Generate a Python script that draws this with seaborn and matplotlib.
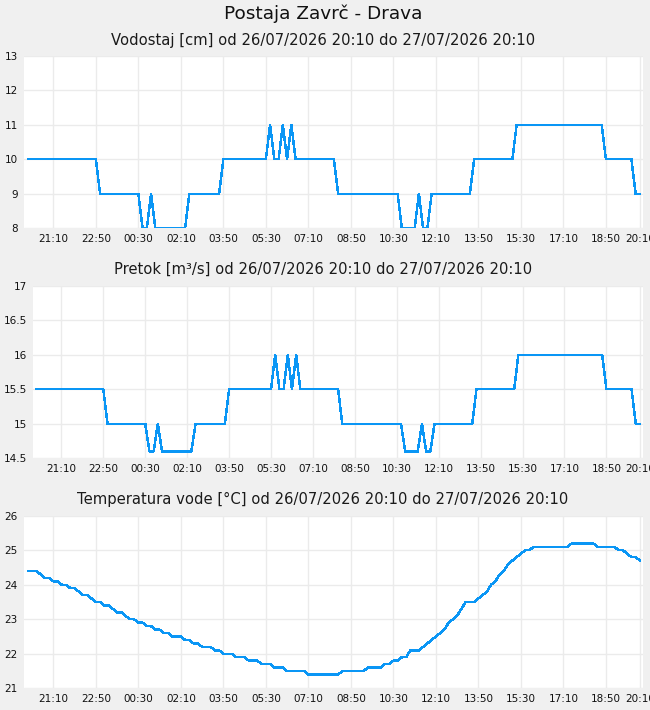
import matplotlib
matplotlib.use("Agg")
import matplotlib.pyplot as plt
import matplotlib.dates as mdates
from matplotlib.ticker import FixedLocator, FuncFormatter
import seaborn as sns
import pandas as pd

# ---------------- data (10-minute samples, 26/07/2026 20:10 .. 27/07/2026 20:10) ----------------
start_time = "2026-07-26 20:10"
n_points = 145

vodostaj = [
    10, 10, 10, 10, 10, 10, 10, 10, 10, 10, 10, 10, 10, 10, 10, 10, 10,
    9, 9, 9, 9, 9, 9, 9, 9, 9, 9,
    8, 8, 9, 8, 8, 8, 8, 8, 8, 8, 8,
    9, 9, 9, 9, 9, 9, 9, 9,
    10, 10, 10, 10, 10, 10, 10, 10, 10, 10, 10,
    11, 10, 10, 11, 10, 11,
    10, 10, 10, 10, 10, 10, 10, 10, 10, 10,
    9, 9, 9, 9, 9, 9, 9, 9, 9, 9, 9, 9, 9, 9, 9,
    8, 8, 8, 8, 9, 8, 8,
    9, 9, 9, 9, 9, 9, 9, 9, 9, 9,
    10, 10, 10, 10, 10, 10, 10, 10, 10, 10,
    11, 11, 11, 11, 11, 11, 11, 11, 11, 11, 11, 11, 11, 11, 11, 11, 11, 11, 11, 11, 11,
    10, 10, 10, 10, 10, 10, 10,
    9, 9,
]

pretok = [
    15.5, 15.5, 15.5, 15.5, 15.5, 15.5, 15.5, 15.5, 15.5, 15.5, 15.5, 15.5, 15.5, 15.5, 15.5, 15.5, 15.5,
    15.0, 15.0, 15.0, 15.0, 15.0, 15.0, 15.0, 15.0, 15.0, 15.0,
    14.6, 14.6, 15.0, 14.6, 14.6, 14.6, 14.6, 14.6, 14.6, 14.6, 14.6,
    15.0, 15.0, 15.0, 15.0, 15.0, 15.0, 15.0, 15.0,
    15.5, 15.5, 15.5, 15.5, 15.5, 15.5, 15.5, 15.5, 15.5, 15.5, 15.5,
    16.0, 15.5, 15.5, 16.0, 15.5, 16.0,
    15.5, 15.5, 15.5, 15.5, 15.5, 15.5, 15.5, 15.5, 15.5, 15.5,
    15.0, 15.0, 15.0, 15.0, 15.0, 15.0, 15.0, 15.0, 15.0, 15.0, 15.0, 15.0, 15.0, 15.0, 15.0,
    14.6, 14.6, 14.6, 14.6, 15.0, 14.6, 14.6,
    15.0, 15.0, 15.0, 15.0, 15.0, 15.0, 15.0, 15.0, 15.0, 15.0,
    15.5, 15.5, 15.5, 15.5, 15.5, 15.5, 15.5, 15.5, 15.5, 15.5,
    16.0, 16.0, 16.0, 16.0, 16.0, 16.0, 16.0, 16.0, 16.0, 16.0, 16.0, 16.0, 16.0, 16.0, 16.0, 16.0, 16.0, 16.0, 16.0, 16.0, 16.0,
    15.5, 15.5, 15.5, 15.5, 15.5, 15.5, 15.5,
    15.0, 15.0,
]

temperatura = [
    24.4, 24.4, 24.4, 24.3, 24.2, 24.2, 24.1, 24.1, 24.0, 24.0,
    23.9, 23.9, 23.8, 23.7, 23.7, 23.6, 23.5, 23.5, 23.4, 23.4,
    23.3, 23.2, 23.2, 23.1, 23.0, 23.0, 22.9, 22.9, 22.8, 22.8,
    22.7, 22.7, 22.6, 22.6, 22.5, 22.5, 22.5, 22.4, 22.4, 22.3,
    22.3, 22.2, 22.2, 22.2, 22.1, 22.1, 22.0, 22.0, 22.0, 21.9,
    21.9, 21.9, 21.8, 21.8, 21.8, 21.7, 21.7, 21.7, 21.6, 21.6,
    21.6, 21.5, 21.5, 21.5, 21.5, 21.5, 21.4, 21.4, 21.4, 21.4,
    21.4, 21.4, 21.4, 21.4, 21.5, 21.5, 21.5, 21.5, 21.5, 21.5,
    21.6, 21.6, 21.6, 21.6, 21.7, 21.7, 21.8, 21.8, 21.9, 21.9,
    22.1, 22.1, 22.1, 22.2, 22.3, 22.4, 22.5, 22.6, 22.7, 22.9,
    23.0, 23.1, 23.3, 23.5, 23.5, 23.5, 23.6, 23.7, 23.8, 24.0,
    24.1, 24.3, 24.4, 24.6, 24.7, 24.8, 24.9, 25.0, 25.0, 25.1,
    25.1, 25.1, 25.1, 25.1, 25.1, 25.1, 25.1, 25.1, 25.2, 25.2,
    25.2, 25.2, 25.2, 25.2, 25.1, 25.1, 25.1, 25.1, 25.1, 25.0,
    25.0, 24.9, 24.8, 24.8, 24.7,
]

tick_labels = ["21:10", "22:50", "00:30", "02:10", "03:50", "05:30", "07:10",
               "08:50", "10:30", "12:10", "13:50", "15:30", "17:10", "18:50", "20:10"]

main_title = "Postaja Zavrč - Drava"
panel_titles = [
    "Vodostaj [cm] od 26/07/2026 20:10 do 27/07/2026 20:10",
    "Pretok [m³/s] od 26/07/2026 20:10 do 27/07/2026 20:10",
    "Temperatura vode [°C] od 26/07/2026 20:10 do 27/07/2026 20:10",
]
y_ticks = [
    [8, 9, 10, 11, 12, 13],
    [14.5, 15, 15.5, 16, 16.5, 17],
    [21, 22, 23, 24, 25, 26],
]

# ---------------- figure ----------------
sns.set_theme(style="white")
plt.rcParams["font.family"] = ["DejaVu Sans"]

BG = "#f0f0f0"
LINE = "#0a96f5"
GRID = "#ebebeb"

fig = plt.figure(figsize=(6.5, 7.1), dpi=100, facecolor=BG)

times = pd.date_range(start_time, periods=n_points, freq="10min")
t0 = times[0]
t_end = times[-1]

# tick positions from tick labels (first tick is the first label after start, end label at end)
tick_times = []
for lab in tick_labels:
    hh, mm = map(int, lab.split(":"))
    cand = t0.normalize() + pd.Timedelta(hours=hh, minutes=mm)
    while tick_times and cand <= tick_times[-1]:
        cand += pd.Timedelta(days=1)
    while cand <= t0:
        cand += pd.Timedelta(days=1)
    tick_times.append(cand)

W, H = 650.0, 710.0
rects_px = [
    (24, 55.7, 643.3, 228.3),
    (33.3, 285.7, 643.3, 458.3),
    (24, 515.7, 643.3, 688.3),
]
left_pad_min = [9, 7, 9]
series = [vodostaj, pretok, temperatura]
title_y_px = [40, 269, 499]

for k in range(3):
    l, t, r, b = rects_px[k]
    ax = fig.add_axes([l / W, 1 - b / H, (r - l) / W, (b - t) / H], facecolor="white")
    df = pd.DataFrame({"time": times, "value": series[k]})
    sns.lineplot(data=df, x="time", y="value", ax=ax, color=LINE, linewidth=1.05,
                 estimator=None, antialiased=False)
    ax.set_xlim(t0 - pd.Timedelta(minutes=left_pad_min[k]), t_end + pd.Timedelta(minutes=8))
    ax.set_ylim(y_ticks[k][0], y_ticks[k][-1])
    ax.yaxis.set_major_locator(FixedLocator(y_ticks[k]))
    ax.yaxis.set_major_formatter(FuncFormatter(lambda v, p: f"{v:g}"))
    ax.xaxis.set_major_locator(FixedLocator(mdates.date2num(tick_times)))
    ax.xaxis.set_major_formatter(mdates.DateFormatter("%H:%M"))
    ax.grid(True, color=GRID, linewidth=1.0)
    ax.set_axisbelow(True)
    for s in ax.spines.values():
        s.set_visible(False)
    ax.tick_params(axis="both", length=0, labelsize=7.5, colors="#111111")
    ax.tick_params(axis="y", pad=4.5)
    ax.tick_params(axis="x", pad=4)
    ax.set_xlabel("")
    ax.set_ylabel("")
    fig.text(0.497, 1 - title_y_px[k] / H, panel_titles[k], ha="center", va="center",
             fontsize=10.6, color="#1a1a1a")

fig.text(0.497, 1 - 14 / H, main_title, ha="center", va="center", fontsize=13.3, color="#111111")

fig.savefig("out.png", dpi=100, facecolor=BG)
